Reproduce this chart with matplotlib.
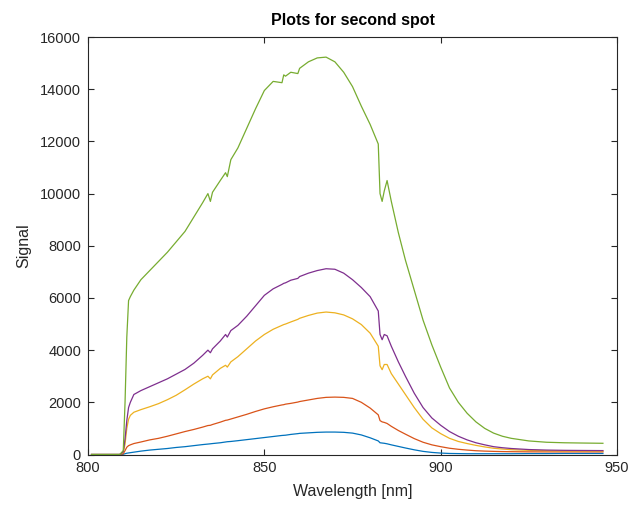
import matplotlib
matplotlib.use("Agg")
import matplotlib.pyplot as plt

wavelength = [801, 805, 809, 810, 810.5, 811, 811.5, 812, 813, 815, 817.5, 820, 822.5, 825, 827.5,
              830, 832.5, 834, 834.7, 835.3, 837.5, 839, 839.5, 840.5, 842.5, 845, 847.5, 850,
              852.5, 855, 855.5, 856, 857.5, 859.5, 860, 862.5, 865, 867.5, 870, 872.5, 875,
              877.5, 880, 882.3, 882.8, 883.4, 884, 884.8, 886, 888, 890, 892.5, 895, 897.5,
              900, 902.5, 905, 907.5, 910, 912.5, 915, 917.5, 920, 925, 930, 935, 940, 946]

blue = [0, 0, 0, 10, 30, 50, 60, 70, 90, 130, 170, 200, 230, 270, 300,
        340, 380, 400, 410, 420, 450, 480, 490, 500, 530, 570, 610, 650,
        690, 730, 735, 740, 770, 800, 810, 830, 850, 860, 860, 850, 820,
        750, 640, 520, 450, 440, 430, 410, 370, 310, 250, 180, 120, 80,
        55, 40, 35, 30, 30, 30, 30, 30, 30, 35, 35, 40, 40, 40]

orange = [0, 0, 0, 30, 150, 280, 340, 370, 420, 480, 560, 620, 700, 790, 880,
          960, 1050, 1110, 1120, 1150, 1240, 1310, 1320, 1360, 1440, 1540, 1650, 1750,
          1830, 1900, 1910, 1930, 1960, 2010, 2030, 2090, 2150, 2190, 2200, 2190, 2150,
          2000, 1780, 1520, 1300, 1250, 1230, 1190, 1080, 920, 780, 610, 470, 370,
          300, 240, 200, 170, 145, 130, 120, 112, 108, 102, 100, 100, 100, 100]

yellow = [0, 0, 0, 80, 400, 1000, 1350, 1500, 1620, 1720, 1830, 1950, 2100, 2270, 2480,
          2700, 2900, 3000, 2900, 3050, 3300, 3420, 3350, 3550, 3750, 4050, 4350, 4600,
          4800, 4950, 4980, 5000, 5080, 5180, 5220, 5330, 5420, 5460, 5430, 5350, 5200,
          4980, 4650, 4150, 3400, 3250, 3450, 3450, 3100, 2700, 2300, 1800, 1350, 1020,
          800, 620, 500, 420, 350, 290, 240, 210, 185, 160, 145, 140, 135, 130]

purple = [0, 0, 0, 100, 600, 1300, 1800, 2000, 2300, 2450, 2600, 2750, 2900, 3080, 3260,
          3500, 3800, 4000, 3900, 4050, 4350, 4600, 4500, 4750, 4950, 5300, 5700, 6100,
          6350, 6520, 6560, 6580, 6680, 6750, 6820, 6950, 7050, 7120, 7100, 6950, 6700,
          6400, 6050, 5500, 4600, 4400, 4600, 4550, 4150, 3550, 3000, 2350, 1800, 1400,
          1120, 880, 700, 560, 450, 370, 300, 260, 230, 190, 170, 160, 155, 150]

green = [0, 0, 0, 150, 2000, 4500, 5900, 6050, 6300, 6700, 7050, 7400, 7750, 8150, 8550,
         9100, 9650, 10000, 9700, 10050, 10500, 10800, 10650, 11300, 11750, 12500, 13250, 13950,
         14300, 14250, 14550, 14500, 14650, 14600, 14800, 15050, 15200, 15230, 15050, 14650, 14100,
         13350, 12650, 11900, 10000, 9700, 10100, 10500, 9700, 8500, 7450, 6300, 5150, 4200,
         3350, 2550, 2000, 1580, 1250, 1000, 820, 700, 620, 520, 470, 450, 440, 430]

series = [blue, orange, yellow, purple, green]
colors = ["#0072BD", "#D95319", "#EDB120", "#7E2F8E", "#77AC30"]

x_ticks = [800, 850, 900, 950]
y_ticks = [0, 2000, 4000, 6000, 8000, 10000, 12000, 14000, 16000]

plt.rcParams['font.family'] = ['Liberation Sans', 'DejaVu Sans']
fig = plt.figure(figsize=(6.30, 5.08), dpi=100)
ax = fig.add_axes([0.1397, 0.1053, 0.8397, 0.8218])

for vals, c in zip(series, colors):
    ax.plot(wavelength, vals, color=c, linewidth=0.9)

tc = "#262626"
ax.set_xlim(800, 950)
ax.set_ylim(0, 16000)
ax.set_xticks(x_ticks)
ax.set_yticks(y_ticks)
ax.tick_params(direction='in', length=4, width=0.8, colors=tc, labelsize=10.5,
               top=True, right=True, pad=5)
for s in ax.spines.values():
    s.set_color(tc)
    s.set_linewidth(0.8)

ax.set_xlabel("Wavelength [nm]", fontsize=11.5, color=tc, labelpad=6)
ax.set_ylabel("Signal", fontsize=11.5, color=tc, labelpad=6)
ax.set_title("Plots for second spot", fontsize=11.5, fontweight='bold', color='black', pad=9)

fig.savefig("out.png", dpi=100)
